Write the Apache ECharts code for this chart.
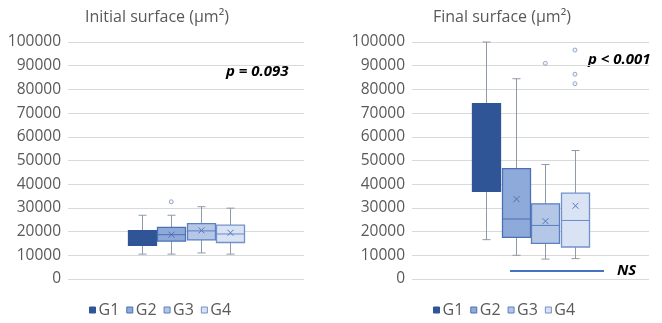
<!DOCTYPE html>
<html lang="en">
<head>
<meta charset="UTF-8">
<title>Initial / final surface</title>
<script src="https://cdn.jsdelivr.net/npm/echarts/dist/echarts.min.js"></script>
<style>
  html, body { margin: 0; padding: 0; background: #fff; }
  #main { width: 662px; height: 323px; }
</style>
</head>
<body>
<div id="main"></div>
<script type="text/javascript">
  // groups
  var groups = ['G1', 'G2', 'G3', 'G4'];
  // padded x categories so the four boxes sit in the middle of the plot
  var axisCats = ['p1', 'p2', 'G1', 'G2', 'G3', 'G4', 'p3', 'p4'];
  var yTicks = [0, 10000, 20000, 30000, 40000, 50000, 60000, 70000, 80000, 90000, 100000];

  // initial surface (µm²)
  var initMin    = [10500, 10500, 11000, 10500];
  var initQ1     = [14200, 16000, 16500, 15400];
  var initMedian = [17300, 18700, 20300, 19000];
  var initQ3     = [20400, 21800, 23400, 22700];
  var initMax    = [26900, 26900, 30500, 29900];
  var initMean   = [17300, 18700, 20500, 19500];
  var initOutliers = [[], [32600], [], []];

  // final surface (µm²)
  var finalMin    = [16600, 10000, 8400, 8600];
  var finalQ1     = [37000, 17600, 15000, 13500];
  var finalMedian = [55000, 25300, 22600, 24700];
  var finalQ3     = [74000, 46600, 31700, 36200];
  var finalMax    = [100000, 84500, 48300, 54200];
  var finalMean   = [56000, 33700, 24400, 30900];
  var finalOutliers = [[], [], [91000], [96600, 86400, 82400]];

  // styles
  var fills   = ['#2f5597', '#8eaadb', '#b4c7e7', '#dae3f3'];
  var borders = ['#2f5597', '#4d70b5', '#5b7fc0', '#7191cb'];
  var medians = ['#2f5597', '#4d70b5', '#5b7fc0', '#6a8bc8'];
  var meanColors = ['#2f5597', '#4d70b5', '#5478bf', '#5478bf'];
  var whiskerColor = '#8e99a9';
  var textColor = '#595959';
  var font = 'Open Sans';

  function renderBox(params, api) {
    var k = groups.indexOf(params.seriesName);
    var x = api.value(0);
    var c = function (v) { return api.coord([x, v]); };
    var lo = c(api.value(1)), q1 = c(api.value(2)), md = c(api.value(3));
    var q3 = c(api.value(4)), hi = c(api.value(5)), mn = c(api.value(6));
    var cx = Math.round(lo[0]) + 0.5, hw = 14, cw = 4, m = 3;
    var ws = { stroke: whiskerColor, lineWidth: 1 };
    var ms = { stroke: meanColors[k], lineWidth: 1 };
    return {
      type: 'group',
      children: [
        { type: 'line', shape: { x1: cx, y1: hi[1], x2: cx, y2: q3[1] }, style: ws },
        { type: 'line', shape: { x1: cx, y1: q1[1], x2: cx, y2: lo[1] }, style: ws },
        { type: 'line', shape: { x1: cx - cw, y1: hi[1], x2: cx + cw, y2: hi[1] }, style: ws },
        { type: 'line', shape: { x1: cx - cw, y1: lo[1], x2: cx + cw, y2: lo[1] }, style: ws },
        { type: 'rect', shape: { x: cx - hw, y: q3[1], width: hw * 2, height: q1[1] - q3[1] },
          style: { fill: fills[k], stroke: borders[k], lineWidth: 1.3 } },
        { type: 'line', shape: { x1: cx - hw, y1: md[1], x2: cx + hw, y2: md[1] },
          style: { stroke: medians[k], lineWidth: 1 } },
        { type: 'line', shape: { x1: cx - m, y1: mn[1] - m, x2: cx + m, y2: mn[1] + m }, style: ms },
        { type: 'line', shape: { x1: cx - m, y1: mn[1] + m, x2: cx + m, y2: mn[1] - m }, style: ms }
      ]
    };
  }

  function boxSeries(idx, mins, q1s, meds, q3s, maxs, means) {
    return groups.map(function (g, k) {
      return {
        name: g,
        type: 'custom',
        xAxisIndex: idx,
        yAxisIndex: idx,
        renderItem: renderBox,
        encode: { x: 0, y: [1, 2, 3, 4, 5, 6] },
        itemStyle: { color: fills[k], borderColor: borders[k] },
        data: [[g, mins[k], q1s[k], meds[k], q3s[k], maxs[k], means[k]]]
      };
    });
  }

  function outlierSeries(idx, outs) {
    var pts = [];
    groups.forEach(function (g, k) {
      outs[k].forEach(function (v) { pts.push([g, v]); });
    });
    return {
      name: 'outliers',
      type: 'scatter',
      xAxisIndex: idx,
      yAxisIndex: idx,
      symbol: 'circle',
      symbolSize: 4,
      itemStyle: { color: '#eef2fa', borderColor: '#7f93bf', borderWidth: 1 },
      data: pts
    };
  }

  function mkX(idx) {
    return { type: 'category', gridIndex: idx, data: axisCats, show: false };
  }

  function mkY(idx) {
    return {
      type: 'value', gridIndex: idx,
      min: yTicks[0], max: yTicks[yTicks.length - 1], interval: yTicks[1] - yTicks[0],
      axisLine: { show: false }, axisTick: { show: false },
      axisLabel: { color: textColor, fontSize: 15.5, fontFamily: font, margin: 7,
        formatter: function (v) { return String(v); } },
      splitLine: { lineStyle: { color: '#d9d9d9', width: 1 } }
    };
  }

  function mkLegend(left) {
    return {
      left: left, top: 302, padding: 0,
      icon: 'rect', itemWidth: 6, itemHeight: 6, itemGap: 7,
      selectedMode: false,
      textStyle: { color: textColor, fontSize: 16, fontFamily: font, padding: [0, 0, 0, -2] },
      data: groups.map(function (g, k) {
        return { name: g, itemStyle: { color: fills[k], borderColor: borders[k], borderWidth: 1 } };
      })
    };
  }

  var pStyle = { fill: '#000', fontSize: 15, fontWeight: 'bold', fontStyle: 'italic', fontFamily: font, verticalAlign: 'middle' };

  var myChart = echarts.init(document.getElementById('main'));
  myChart.setOption({
    animation: false,
    backgroundColor: '#fff',
    title: [
      { text: 'Initial surface (µm²)', left: 85, top: 9, padding: 0,
        textStyle: { color: textColor, fontSize: 16, fontWeight: 'normal', fontFamily: font } },
      { text: 'Final surface (µm²)', left: 433, top: 9, padding: 0,
        textStyle: { color: textColor, fontSize: 16, fontWeight: 'normal', fontFamily: font } }
    ],
    grid: [
      { left: 68, top: 42, width: 236, height: 237 },
      { left: 412, top: 42, width: 237, height: 237 }
    ],
    xAxis: [mkX(0), mkX(1)],
    yAxis: [mkY(0), mkY(1)],
    legend: [mkLegend(89), mkLegend(433)],
    graphic: [
      { type: 'text', x: 226, y: 72, style: Object.assign({ text: 'p = 0.093' }, pStyle) },
      { type: 'text', x: 588, y: 60, style: Object.assign({ text: 'p < 0.001' }, pStyle) },
      { type: 'line', shape: { x1: 510, y1: 271, x2: 604, y2: 271 }, style: { stroke: '#4472c4', lineWidth: 2 } },
      { type: 'text', x: 617, y: 271, style: Object.assign({ text: 'NS' }, pStyle) }
    ],
    series: []
      .concat(boxSeries(0, initMin, initQ1, initMedian, initQ3, initMax, initMean))
      .concat([outlierSeries(0, initOutliers)])
      .concat(boxSeries(1, finalMin, finalQ1, finalMedian, finalQ3, finalMax, finalMean))
      .concat([outlierSeries(1, finalOutliers)])
  });
</script>
</body>
</html>
